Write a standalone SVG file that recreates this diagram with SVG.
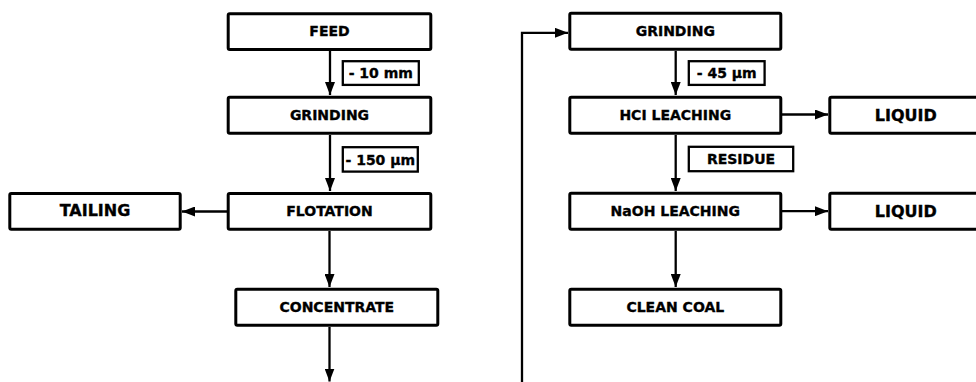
<svg xmlns="http://www.w3.org/2000/svg" width="976" height="382" viewBox="0 0 976 382">
<style>
  .box { fill: #fff; stroke: #000; stroke-width: 3; }
  .lbl { fill: #fff; stroke: #000; stroke-width: 2.3; }
  .t { font-family: "DejaVu Sans", "Liberation Sans", sans-serif; font-weight: bold; font-size: 14px; fill: #000; stroke: #000; stroke-width: 0.35; text-anchor: middle; }
  .tb { font-size: 16px; }
  .c { fill: none; stroke: #000; stroke-width: 2.3; marker-end: url(#ah); }
</style>
<defs>
  <marker id="ah" markerUnits="userSpaceOnUse" markerWidth="13" markerHeight="10" refX="13" refY="5" orient="auto">
    <path d="M0,0 L13,5 L0,10 Z" fill="#000"/>
  </marker>
</defs>
<rect width="976" height="382" fill="#fff"/>
<g id="connectors">
  <line class="c" x1="330" y1="51" x2="330" y2="95"/>
  <line class="c" x1="330" y1="135" x2="330" y2="191"/>
  <line class="c" x1="227" y1="211.5" x2="182" y2="211.5"/>
  <line class="c" x1="329.5" y1="231" x2="329.5" y2="287"/>
  <line class="c" x1="329.5" y1="327" x2="329.5" y2="381.5"/>
  <polyline class="c" points="522,383 522,32.8 568,32.8"/>
  <line class="c" x1="675.7" y1="51" x2="675.7" y2="95"/>
  <line class="c" x1="782" y1="114.5" x2="828" y2="114.5"/>
  <line class="c" x1="675.7" y1="135" x2="675.7" y2="191"/>
  <line class="c" x1="782" y1="211.2" x2="828" y2="211.2"/>
  <line class="c" x1="675.7" y1="231" x2="675.7" y2="287"/>
</g>
<g id="feed"><rect class="box" x="228.2" y="13.8" width="202.6" height="35.6" rx="1.5"/><text class="t" x="329.5" y="36.2">FEED</text></g>
<g id="lbl-10mm"><rect class="lbl" x="342.8" y="61.2" width="76" height="23.7"/><text class="t" x="380.8" y="78.3">- 10 mm</text></g>
<g id="grinding1"><rect class="box" x="228.2" y="97.2" width="202.6" height="36" rx="1.5"/><text class="t" x="329.5" y="119.7">GRINDING</text></g>
<g id="lbl-150um"><rect class="lbl" x="342.8" y="147.2" width="75" height="24.4"/><text class="t" x="380.3" y="164.6">- 150 µm</text></g>
<g id="tailing"><rect class="box" x="9.8" y="193.5" width="170.4" height="35.7" rx="1.5"/><text class="t tb" x="95" y="216.2">TAILING</text></g>
<g id="flotation"><rect class="box" x="228.2" y="193.5" width="202.6" height="35.7" rx="1.5"/><text class="t" x="329.5" y="215.9">FLOTATION</text></g>
<g id="concentrate"><rect class="box" x="235.8" y="289.2" width="202" height="36" rx="1.5"/><text class="t" x="336.8" y="311.7">CONCENTRATE</text></g>
<g id="grinding2"><rect class="box" x="569.8" y="13.2" width="211" height="36" rx="1.5"/><text class="t" x="675.3" y="35.7">GRINDING</text></g>
<g id="lbl-45um"><rect class="lbl" x="688.8" y="61.2" width="75.8" height="23.7"/><text class="t" x="726.7" y="78.3">- 45 µm</text></g>
<g id="hcl"><rect class="box" x="569.8" y="97.2" width="211" height="36" rx="1.5"/><text class="t" x="675.3" y="119.7">HCI LEACHING</text></g>
<g id="liquid1"><rect class="box" x="829.8" y="97.2" width="160" height="36" rx="1.5"/><text class="t tb" x="905.8" y="120.5">LIQUID</text></g>
<g id="lbl-residue"><rect class="lbl" x="688.8" y="146.8" width="104.4" height="24.4"/><text class="t" x="741" y="164.2">RESIDUE</text></g>
<g id="naoh"><rect class="box" x="569.8" y="193.2" width="211" height="36" rx="1.5"/><text class="t" x="675.3" y="215.7">NaOH LEACHING</text></g>
<g id="liquid2"><rect class="box" x="829.8" y="193.2" width="160" height="36" rx="1.5"/><text class="t tb" x="905.8" y="216.5">LIQUID</text></g>
<g id="cleancoal"><rect class="box" x="569.8" y="289.2" width="211" height="36" rx="1.5"/><text class="t" x="675.3" y="311.7">CLEAN COAL</text></g>
</svg>
